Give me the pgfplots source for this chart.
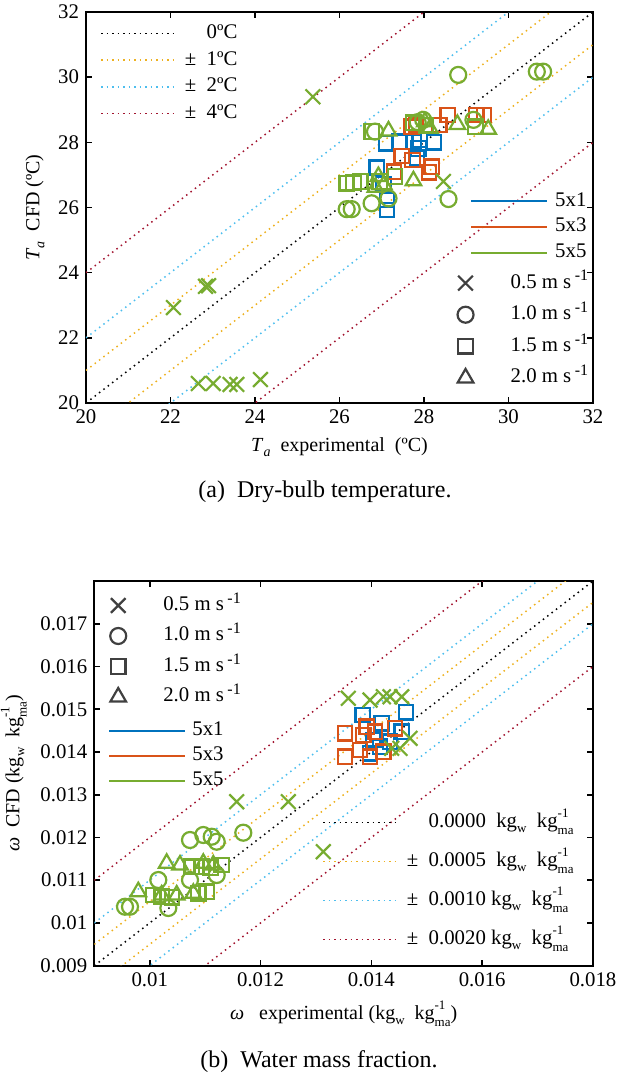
\documentclass[border=0pt]{standalone}
\usepackage{amsmath}
\usepackage{fontspec}
\setmainfont{Liberation Serif}
\usepackage{pgfplots}
\pgfplotsset{compat=1.18}
\definecolor{cblue}{RGB}{0,114,189}
\definecolor{corange}{RGB}{217,83,25}
\definecolor{cgreen}{RGB}{119,172,48}
\definecolor{cyellow}{RGB}{237,177,32}
\definecolor{clight}{RGB}{77,190,238}
\definecolor{cred}{RGB}{162,20,47}
\definecolor{dgray}{RGB}{64,64,64}
\newcommand{\kgma}{kg\rlap{\raisebox{5pt}{\fontsize{6.5}{7}\selectfont -1}}\raisebox{-3.6pt}{\fontsize{6.5}{7}\selectfont ma}}
\newcommand{\kgw}{kg\raisebox{-2.5pt}{\fontsize{6.5}{7}\selectfont w}}
\newcommand{\msi}{m s\,\raisebox{3.6pt}{\fontsize{8}{9}\selectfont -1}}
\pgfplotsset{
  mainax/.style={scale only axis, tick align=inside, axis line style={line width=0.9pt},
    major tick length=3pt, tick style={line width=0.8pt, black},
    ticklabel style={font=\fontsize{10.4}{12}\selectfont},
    label style={font=\fontsize{10}{12}\selectfont},
    /pgf/number format/assume math mode=true},
  refdot/.style={line width=0.75pt, dash pattern=on 0.75pt off 2pt},
  mk/.style={only marks, line width=1.1pt, mark options={solid}},
  mx/.style={mk, mark=x, mark size=5.2pt},
  mo/.style={mk, mark=o, mark size=4pt},
  ms/.style={mk, mark=square, mark size=3.6pt},
  mt/.style={mk, mark=triangle, mark size=4.5pt},
  legax/.style={scale only axis, hide axis, xmin=0, xmax=1, ymin=0, ymax=1},
  linelegend/.style={legend image code/.code={\draw[##1] (0pt,0pt) -- (38pt,0pt);}},
  marklegend/.style={legend image code/.code={\path (0pt,0pt) (28pt,0pt); \draw[##1] plot coordinates {(6pt,0pt)};}},
  legst/.style={legend cell align=left, legend style={draw=none, fill=none, inner sep=0pt,
    font=\fontsize{10.4}{12}\selectfont, nodes={inner sep=0pt, text height=8pt, text depth=3pt}}},
}
\begin{document}
\begin{tikzpicture}
\useasboundingbox (0pt,0pt) rectangle (308.5pt,-542pt);
% ---------------- (a) ----------------
\begin{axis}[mainax, at={(43pt,-201.5pt)}, anchor=south west, width=253.5pt, height=195.5pt,
  xmin=20, xmax=32, ymin=20, ymax=32, xtick={20,22,...,32}, ytick={20,22,...,32},
  xlabel={\textit{T}\raisebox{-2.5pt}{\fontsize{7}{8}\selectfont\textit{a}}\ \ experimental\ \ (ºC)},
  ylabel={\textit{T}\raisebox{-2.5pt}{\fontsize{7}{8}\selectfont\textit{a}}\ \ CFD (ºC)}]
\addplot[refdot, black] coordinates {(20,20) (32,32)};
\addplot[refdot, cyellow] coordinates {(20,21) (32,33)};
\addplot[refdot, cyellow] coordinates {(20,19) (32,31)};
\addplot[refdot, clight] coordinates {(20,22) (32,34)};
\addplot[refdot, clight] coordinates {(20,18) (32,30)};
\addplot[refdot, cred] coordinates {(20,24) (32,36)};
\addplot[refdot, cred] coordinates {(20,16) (32,28)};
% 5x1 squares
\addplot[ms, cblue] coordinates {(27.10,27.97) (27.42,28.02) (27.75,28.02) (27.90,28.07) (28.24,28.00) (26.88,27.22) (27.04,26.72) (27.12,26.23) (27.12,25.92) (27.87,27.81) (27.83,27.53)};
% 5x3 squares
\addplot[ms, corange] coordinates {(28.56,28.84) (29.24,28.84) (29.42,28.84) (27.81,28.53) (28.36,28.53) (27.47,27.58) (27.73,27.46) (28.18,27.25) (28.12,27.08) (27.29,27.10) (27.71,28.48)};
% 5x5
\addplot[ms, cgreen] coordinates {(26.76,28.33) (27.75,28.60) (28.05,28.52) (26.17,26.74) (26.49,26.80) (26.33,26.76) (27.31,26.95) (29.22,28.48) (26.95,26.80)};
\addplot[mt, cgreen] coordinates {(27.16,28.35) (28.02,28.63) (28.14,28.43) (28.79,28.55) (29.52,28.40) (27.75,26.82) (26.92,26.95) (27.05,26.70) (26.85,26.62)};
\addplot[mo, cgreen] coordinates {(28.81,30.07) (30.67,30.17) (30.82,30.17) (27.98,28.69) (26.84,28.33) (29.17,28.69) (28.58,26.26) (26.76,26.13) (27.16,26.28) (26.17,25.95) (26.29,25.95) (27.85,28.62)};
\addplot[mx, cgreen] coordinates {(25.37,29.40) (22.07,22.93) (22.83,23.58) (22.90,23.60) (22.66,20.60) (23.01,20.60) (23.41,20.57) (23.57,20.57) (24.13,20.72) (28.46,26.80)};
\end{axis}
\begin{axis}[legax, legst, linelegend, at={(43pt,-201.5pt)}, anchor=south west, width=253.5pt, height=195.5pt,
  legend style={at={(0.0276,0.974)}, anchor=north west, row sep=2.3pt, column sep=3.5pt}]
\addlegendimage{refdot, black}\addlegendentry{\hphantom{±\ \ }0ºC}
\addlegendimage{refdot, cyellow}\addlegendentry{±\ \ 1ºC}
\addlegendimage{refdot, clight}\addlegendentry{±\ \ 2ºC}
\addlegendimage{refdot, cred}\addlegendentry{±\ \ 4ºC}
\end{axis}
\begin{axis}[legax, legst, linelegend, at={(43pt,-201.5pt)}, anchor=south west, width=253.5pt, height=195.5pt,
  legend style={at={(0.757,0.5455)}, anchor=north west, row sep=1.9pt, column sep=3.5pt}]
\addlegendimage{cblue, line width=1pt}\addlegendentry{5x1}
\addlegendimage{corange, line width=1pt}\addlegendentry{5x3}
\addlegendimage{cgreen, line width=1pt}\addlegendentry{5x5}
\end{axis}
\begin{axis}[legax, legst, marklegend, at={(43pt,-201.5pt)}, anchor=south west, width=253.5pt, height=195.5pt,
  legend style={at={(0.722,0.035)}, anchor=south west, row sep=4.8pt, column sep=0pt}]
\addlegendimage{dgray, line width=1.1pt, mark=x, mark size=5.2pt}\addlegendentry{0.5 \msi}
\addlegendimage{dgray, line width=1.1pt, mark=o, mark size=4pt}\addlegendentry{1.0 \msi}
\addlegendimage{dgray, line width=1.1pt, mark=square, mark size=3.6pt}\addlegendentry{1.5 \msi}
\addlegendimage{dgray, line width=1.1pt, mark=triangle, mark size=4.5pt}\addlegendentry{2.0 \msi}
\end{axis}
\node[font=\fontsize{12}{14}\selectfont] at (162.5pt,-246pt) {(a)\ \ Dry-bulb temperature.};
% ---------------- (b) ----------------
\begin{axis}[mainax, at={(47.15pt,-482.85pt)}, anchor=south west, width=249.35pt, height=192.35pt,
  xmin=0.009, xmax=0.018, ymin=0.009, ymax=0.018, scaled ticks=false,
  xtick={0.01,0.012,0.014,0.016,0.018}, ytick={0.009,0.01,0.011,0.012,0.013,0.014,0.015,0.016,0.017},
  xticklabel style={/pgf/number format/fixed, /pgf/number format/precision=3},
  yticklabel style={/pgf/number format/fixed, /pgf/number format/precision=3},
  xlabel={\textit{ω}\ \ \ experimental (\kgw\ \ \kgma)},
  ylabel={\textit{ω}\ \ CFD (\kgw\ \ \kgma)}]
\addplot[refdot, black] coordinates {(0.009,0.009) (0.018,0.018)};
\addplot[refdot, cyellow] coordinates {(0.009,0.0095) (0.018,0.0185)};
\addplot[refdot, cyellow] coordinates {(0.009,0.0085) (0.018,0.0175)};
\addplot[refdot, clight] coordinates {(0.009,0.010) (0.018,0.019)};
\addplot[refdot, clight] coordinates {(0.009,0.008) (0.018,0.017)};
\addplot[refdot, cred] coordinates {(0.009,0.011) (0.018,0.020)};
\addplot[refdot, cred] coordinates {(0.009,0.007) (0.018,0.016)};
\addplot[ms, cblue] coordinates {(0.013844,0.014865) (0.014187,0.014671) (0.014625,0.014928) (0.014548,0.014474) (0.014337,0.014241) (0.014035,0.014280) (0.014156,0.014123) (0.013976,0.013969)};
\addplot[ms, corange] coordinates {(0.013524,0.014437) (0.013524,0.013890) (0.013916,0.014592) (0.014066,0.014474) (0.014427,0.014554) (0.013795,0.014047) (0.013976,0.013890) (0.014216,0.014007) (0.013855,0.014397)};
\addplot[ms, cgreen] coordinates {(0.010758,0.011316) (0.010938,0.011316) (0.011299,0.011356) (0.011100,0.011300) (0.010065,0.010654) (0.010216,0.010614) (0.010400,0.010600) (0.010877,0.010694) (0.011028,0.010731)};
\addplot[mt, cgreen] coordinates {(0.010306,0.011396) (0.010547,0.011356) (0.010967,0.011396) (0.011148,0.011356) (0.009794,0.010731) (0.010216,0.010654) (0.010487,0.010654) (0.010787,0.010694)};
\addplot[mo, cgreen] coordinates {(0.010727,0.011941) (0.010967,0.012058) (0.011119,0.012018) (0.011209,0.011901) (0.011689,0.012112) (0.010155,0.011005) (0.011209,0.011122) (0.010727,0.011005) (0.010336,0.010350) (0.009554,0.010380) (0.009644,0.010380)};
\addplot[mx, cgreen] coordinates {(0.013585,0.015256) (0.013976,0.015216) (0.014216,0.015293) (0.014337,0.015293) (0.014548,0.015293) (0.014698,0.014320) (0.014517,0.014086) (0.014367,0.014086) (0.011570,0.012837) (0.012501,0.012837) (0.013133,0.011667)};
\end{axis}
\begin{axis}[legax, legst, marklegend, at={(47.15pt,-482.85pt)}, anchor=south west, width=249.35pt, height=192.35pt,
  legend style={at={(0.0209,0.966)}, anchor=north west, row sep=4.25pt, column sep=0pt}]
\addlegendimage{dgray, line width=1.1pt, mark=x, mark size=5.2pt}\addlegendentry{0.5 \msi}
\addlegendimage{dgray, line width=1.1pt, mark=o, mark size=4pt}\addlegendentry{1.0 \msi}
\addlegendimage{dgray, line width=1.1pt, mark=square, mark size=3.6pt}\addlegendentry{1.5 \msi}
\addlegendimage{dgray, line width=1.1pt, mark=triangle, mark size=4.5pt}\addlegendentry{2.0 \msi}
\end{axis}
\begin{axis}[legax, legst, linelegend, at={(47.15pt,-482.85pt)}, anchor=south west, width=249.35pt, height=192.35pt,
  legend style={at={(0.0275,0.641)}, anchor=north west, row sep=1.5pt, column sep=3pt}]
\addlegendimage{cblue, line width=1pt}\addlegendentry{5x1}
\addlegendimage{corange, line width=1pt}\addlegendentry{5x3}
\addlegendimage{cgreen, line width=1pt}\addlegendentry{5x5}
\end{axis}
\begin{axis}[legax, legst, linelegend, at={(47.15pt,-482.85pt)}, anchor=south west, width=249.35pt, height=192.35pt,
  legend style={at={(0.4566,0.038)}, anchor=south west, row sep=8.5pt, column sep=3.5pt}]
\addlegendimage{refdot, black}\addlegendentry{\hphantom{±\ \ }0.0000\ \ \kgw\ \ \kgma}
\addlegendimage{refdot, cyellow}\addlegendentry{±\ \ 0.0005\ \ \kgw\ \ \kgma}
\addlegendimage{refdot, clight}\addlegendentry{±\ \ 0.0010 \kgw\ \ \kgma}
\addlegendimage{refdot, cred}\addlegendentry{±\ \ 0.0020 \kgw\ \ \kgma}
\end{axis}
\node[font=\fontsize{12}{14}\selectfont] at (159.5pt,-531pt) {(b)\ \ Water mass fraction.};
\end{tikzpicture}
\end{document}
